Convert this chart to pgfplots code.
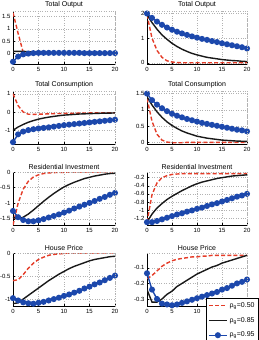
\documentclass[border=0pt]{standalone}
\usepackage{pgfplots}
\pgfplotsset{compat=1.18}
\usepackage{fontspec}
\setmainfont{Liberation Sans}
\definecolor{mred}{RGB}{228,60,40}
\definecolor{mblue}{RGB}{28,72,172}
\definecolor{mblack}{RGB}{25,25,25}
\pgfplotsset{
 panel/.style={scale only axis, height=53pt, xmin=0, xmax=20, xtick={0,5,10,15,20},
  axis lines=left, axis line style={-, black, line width=0.5pt},
  grid=major, grid style={dotted, gray!60, line width=0.45pt},
  tick align=inside, major tick length=2pt, tick style={black, line width=0.4pt},
  ticklabel style={font=\fontsize{6}{6}\selectfont},
  xticklabel style={yshift=0pt}, yticklabel style={xshift=1pt},
  every axis title shift=0pt,
  title style={font=\fontsize{7}{7}\selectfont, inner sep=0pt, at={(0.5,1)}, anchor=south, yshift=2.5pt},
  /pgf/number format/assume math mode=true,
  after end axis/.code={\draw[dotted, gray!60, line width=0.45pt] (rel axis cs:0,1) -- (rel axis cs:1,1) -- (rel axis cs:1,0);}},
 lc/.style={panel, width=102pt},
 rc/.style={panel, width=100pt},
 sr/.style={color=mred, line width=1.4pt, dash pattern=on 4pt off 2.2pt, no markers},
 sk/.style={color=mblack, line width=1.4pt, no markers},
 sb/.style={color=mblue, line width=1.4pt, mark=*, mark size=2.3pt, mark options={solid, fill=mblue}},
}
\begin{document}
\begin{tikzpicture}
\useasboundingbox (0pt,0pt) rectangle (259pt,-340pt);
% Row 1 left: Total Output
\begin{axis}[lc, at={(13pt,-11pt)}, anchor=north west, title={Total Output}, ymin=-0.42, ymax=1.72, ytick={0,0.5,1,1.5}]
\addplot[sr] coordinates {(0,1.65)(1,0.82)(2,0.05)(3,0.04)(4,0.03)(5,0.03)(6,0.02)(7,0.02)(8,0.02)(9,0.02)(10,0.01)(11,0.01)(12,0.01)(13,0.01)(14,0.01)(15,0.01)(16,0.01)(17,0.01)(18,0.01)(19,0.01)(20,0.01)};
\addplot[sk] coordinates {(0,0.09)(1,0.09)(2,0.09)(3,0.08)(4,0.07)(5,0.06)(6,0.05)(7,0.05)(8,0.04)(9,0.04)(10,0.04)(11,0.03)(12,0.03)(13,0.03)(14,0.03)(15,0.03)(16,0.03)(17,0.03)(18,0.03)(19,0.03)(20,0.03)};
\addplot[sb] coordinates {(0,-0.33)(1,-0.12)(2,-0.03)(3,0.0)(4,0.02)(5,0.03)(6,0.03)(7,0.03)(8,0.03)(9,0.03)(10,0.03)(11,0.03)(12,0.03)(13,0.03)(14,0.02)(15,0.02)(16,0.02)(17,0.02)(18,0.02)(19,0.02)(20,0.02)};
\end{axis}
% Row 1 right
\begin{axis}[rc, at={(147pt,-11pt)}, anchor=north west, title={Total Output}, ymin=-0.05, ymax=2.1, ytick={0,1,2}]
\addplot[sr] coordinates {(0,1.95)(1,1.0)(2,0.5)(3,0.22)(4,0.08)(5,0.03)(6,0.01)(7,0)(8,0)(9,0)(10,0)(11,0)(12,0)(13,0)(14,0)(15,0)(16,0)(17,0)(18,0)(19,0)(20,0)};
\addplot[sk] coordinates {(0,1.95)(1,1.63)(2,1.36)(3,1.13)(4,0.95)(5,0.79)(6,0.66)(7,0.55)(8,0.46)(9,0.38)(10,0.32)(11,0.27)(12,0.22)(13,0.19)(14,0.16)(15,0.13)(16,0.11)(17,0.09)(18,0.08)(19,0.06)(20,0.05)};
\addplot[sb] coordinates {(0,2.0)(1,1.82)(2,1.67)(3,1.54)(4,1.43)(5,1.34)(6,1.26)(7,1.19)(8,1.13)(9,1.07)(10,1.02)(11,0.97)(12,0.93)(13,0.88)(14,0.84)(15,0.79)(16,0.75)(17,0.71)(18,0.67)(19,0.63)(20,0.58)};
\end{axis}
% Row 2 left: Total Consumption
\begin{axis}[lc, at={(13pt,-91pt)}, anchor=north west, title={Total Consumption}, ymin=-1.75, ymax=1.15, ytick={-1,0,1}]
\addplot[sr] coordinates {(0,1.0)(1,0.35)(2,0.0)(3,-0.12)(4,-0.13)(5,-0.12)(6,-0.11)(7,-0.1)(8,-0.09)(9,-0.08)(10,-0.08)(11,-0.07)(12,-0.07)(13,-0.06)(14,-0.06)(15,-0.05)(16,-0.05)(17,-0.05)(18,-0.04)(19,-0.04)(20,-0.04)};
\addplot[sk] coordinates {(0,-1.0)(1,-0.82)(2,-0.68)(3,-0.56)(4,-0.47)(5,-0.39)(6,-0.33)(7,-0.28)(8,-0.24)(9,-0.2)(10,-0.17)(11,-0.15)(12,-0.13)(13,-0.11)(14,-0.1)(15,-0.09)(16,-0.08)(17,-0.07)(18,-0.06)(19,-0.06)(20,-0.05)};
\addplot[sb] coordinates {(0,-1.65)(1,-1.22)(2,-1.07)(3,-0.99)(4,-0.94)(5,-0.9)(6,-0.87)(7,-0.84)(8,-0.8)(9,-0.76)(10,-0.72)(11,-0.69)(12,-0.66)(13,-0.63)(14,-0.6)(15,-0.57)(16,-0.54)(17,-0.51)(18,-0.48)(19,-0.45)(20,-0.42)};
\end{axis}
% Row 2 right
\begin{axis}[rc, at={(147pt,-91pt)}, anchor=north west, title={Total Consumption}, ymin=-0.05, ymax=1.58, ytick={0,0.5,1,1.5}]
\addplot[sr] coordinates {(0,1.35)(1,0.65)(2,0.25)(3,0.07)(4,0.01)(5,-0.01)(6,-0.01)(7,-0.01)(8,0)(9,0)(10,0)(11,0)(12,0)(13,0)(14,0)(15,0)(16,0)(17,0)(18,0)(19,0)(20,0)};
\addplot[sk] coordinates {(0,1.4)(1,1.15)(2,0.94)(3,0.77)(4,0.63)(5,0.52)(6,0.43)(7,0.35)(8,0.29)(9,0.24)(10,0.19)(11,0.16)(12,0.13)(13,0.11)(14,0.09)(15,0.07)(16,0.06)(17,0.05)(18,0.04)(19,0.035)(20,0.03)};
\addplot[sb] coordinates {(0,1.5)(1,1.3)(2,1.16)(3,1.05)(4,0.96)(5,0.88)(6,0.82)(7,0.77)(8,0.72)(9,0.68)(10,0.64)(11,0.6)(12,0.57)(13,0.54)(14,0.51)(15,0.48)(16,0.45)(17,0.42)(18,0.39)(19,0.37)(20,0.34)};
\end{axis}
% Row 3 left: Residential Investment
\begin{axis}[lc, at={(13pt,-172pt)}, anchor=north west, title={Residential Investment}, ymin=-1.7, ymax=0, ytick={-1.5,-1,-0.5,0}]
\addplot[sr] coordinates {(0,-1.7)(1,-1.0)(2,-0.55)(3,-0.3)(4,-0.16)(5,-0.09)(6,-0.05)(7,-0.03)(8,-0.02)(9,-0.01)(10,-0.01)(11,0)(12,0)(13,0)(14,0)(15,0)(16,0)(17,0)(18,0)(19,0)(20,0)};
\addplot[sk] coordinates {(0,-1.45)(1,-1.5)(2,-1.45)(3,-1.35)(4,-1.22)(5,-1.08)(6,-0.94)(7,-0.81)(8,-0.69)(9,-0.58)(10,-0.48)(11,-0.4)(12,-0.33)(13,-0.27)(14,-0.21)(15,-0.17)(16,-0.13)(17,-0.1)(18,-0.07)(19,-0.05)(20,-0.04)};
\addplot[sb] coordinates {(0,-1.25)(1,-1.45)(2,-1.54)(3,-1.58)(4,-1.58)(5,-1.55)(6,-1.51)(7,-1.46)(8,-1.41)(9,-1.36)(10,-1.3)(11,-1.24)(12,-1.17)(13,-1.11)(14,-1.05)(15,-0.99)(16,-0.93)(17,-0.86)(18,-0.8)(19,-0.73)(20,-0.67)};
\end{axis}
% Row 3 right
\begin{axis}[rc, at={(147pt,-172pt)}, anchor=north west, title={Residential Investment}, ymin=-1.37, ymax=-0.06, ytick={-1.2,-1,-0.8,-0.6,-0.4,-0.2}]
\addplot[sr] coordinates {(0,-1.3)(1,-0.62)(2,-0.33)(3,-0.2)(4,-0.15)(5,-0.12)(6,-0.11)(7,-0.1)(8,-0.1)(9,-0.1)(10,-0.1)(11,-0.1)(12,-0.1)(13,-0.1)(14,-0.1)(15,-0.1)(16,-0.1)(17,-0.1)(18,-0.1)(19,-0.1)(20,-0.1)};
\addplot[sk] coordinates {(0,-1.3)(1,-1.1)(2,-0.95)(3,-0.84)(4,-0.74)(5,-0.66)(6,-0.59)(7,-0.52)(8,-0.46)(9,-0.4)(10,-0.35)(11,-0.31)(12,-0.28)(13,-0.25)(14,-0.22)(15,-0.2)(16,-0.18)(17,-0.16)(18,-0.15)(19,-0.14)(20,-0.13)};
\addplot[sb] coordinates {(0,-1.3)(1,-1.3)(2,-1.27)(3,-1.23)(4,-1.19)(5,-1.15)(6,-1.11)(7,-1.08)(8,-1.04)(9,-1.01)(10,-0.97)(11,-0.94)(12,-0.9)(13,-0.86)(14,-0.83)(15,-0.79)(16,-0.75)(17,-0.71)(18,-0.67)(19,-0.64)(20,-0.6)};
\end{axis}
% Row 4 left: House Price
\begin{axis}[lc, at={(13pt,-253pt)}, anchor=north west, title={House Price}, ymin=-1.15, ymax=0, ytick={-1,-0.5,0}]
\addplot[sr] coordinates {(0,-0.6)(1,-0.58)(2,-0.47)(3,-0.33)(4,-0.22)(5,-0.14)(6,-0.09)(7,-0.05)(8,-0.03)(9,-0.02)(10,-0.01)(11,0)(12,0)(13,0)(14,0)(15,0)(16,0)(17,0)(18,0)(19,0)(20,0)};
\addplot[sk] coordinates {(0,-1.1)(1,-1.08)(2,-1.0)(3,-0.92)(4,-0.84)(5,-0.76)(6,-0.68)(7,-0.6)(8,-0.53)(9,-0.46)(10,-0.4)(11,-0.34)(12,-0.29)(13,-0.25)(14,-0.21)(15,-0.17)(16,-0.14)(17,-0.12)(18,-0.1)(19,-0.08)(20,-0.07)};
\addplot[sb] coordinates {(0,-0.98)(1,-1.03)(2,-1.07)(3,-1.09)(4,-1.1)(5,-1.08)(6,-1.06)(7,-1.03)(8,-1.0)(9,-0.97)(10,-0.93)(11,-0.9)(12,-0.86)(13,-0.82)(14,-0.77)(15,-0.73)(16,-0.68)(17,-0.64)(18,-0.59)(19,-0.54)(20,-0.49)};
\end{axis}
% Row 4 right
\begin{axis}[rc, at={(147pt,-253pt)}, anchor=north west, title={House Price}, ymin=-0.345, ymax=-0.005, ytick={-0.3,-0.2,-0.1},
  legend style={at={(0.59,0.15)}, anchor=north west, font=\fontsize{7}{7.5}\selectfont, draw=black, line width=0.4pt, row sep=4.5pt, inner sep=2pt, fill=white},
  legend cell align=left,
  legend image code/.code={\draw[#1, mark repeat=2, mark phase=2] plot coordinates {(0pt,0pt) (9pt,0pt) (18pt,0pt)};}]
\addplot[sr] coordinates {(0,-0.17)(1,-0.15)(2,-0.12)(3,-0.09)(4,-0.07)(5,-0.055)(6,-0.045)(7,-0.04)(8,-0.035)(9,-0.03)(10,-0.03)(11,-0.025)(12,-0.025)(13,-0.02)(14,-0.02)(15,-0.02)(16,-0.02)(17,-0.02)(18,-0.02)(19,-0.02)(20,-0.02)};
\addlegendentry{ρ\textsubscript{g}=0.50}
\addplot[sk] coordinates {(0,-0.24)(1,-0.32)(2,-0.32)(3,-0.3)(4,-0.27)(5,-0.25)(6,-0.22)(7,-0.2)(8,-0.18)(9,-0.16)(10,-0.14)(11,-0.125)(12,-0.11)(13,-0.095)(14,-0.085)(15,-0.07)(16,-0.06)(17,-0.05)(18,-0.04)(19,-0.03)(20,-0.02)};
\addlegendentry{ρ\textsubscript{g}=0.85}
\addplot[sb] coordinates {(0,-0.135)(1,-0.24)(2,-0.3)(3,-0.33)(4,-0.335)(5,-0.34)(6,-0.335)(7,-0.325)(8,-0.315)(9,-0.305)(10,-0.295)(11,-0.285)(12,-0.275)(13,-0.265)(14,-0.255)(15,-0.24)(16,-0.23)(17,-0.215)(18,-0.2)(19,-0.19)(20,-0.175)};
\addlegendentry{ρ\textsubscript{g}=0.95}
\end{axis}
\end{tikzpicture}
\end{document}
